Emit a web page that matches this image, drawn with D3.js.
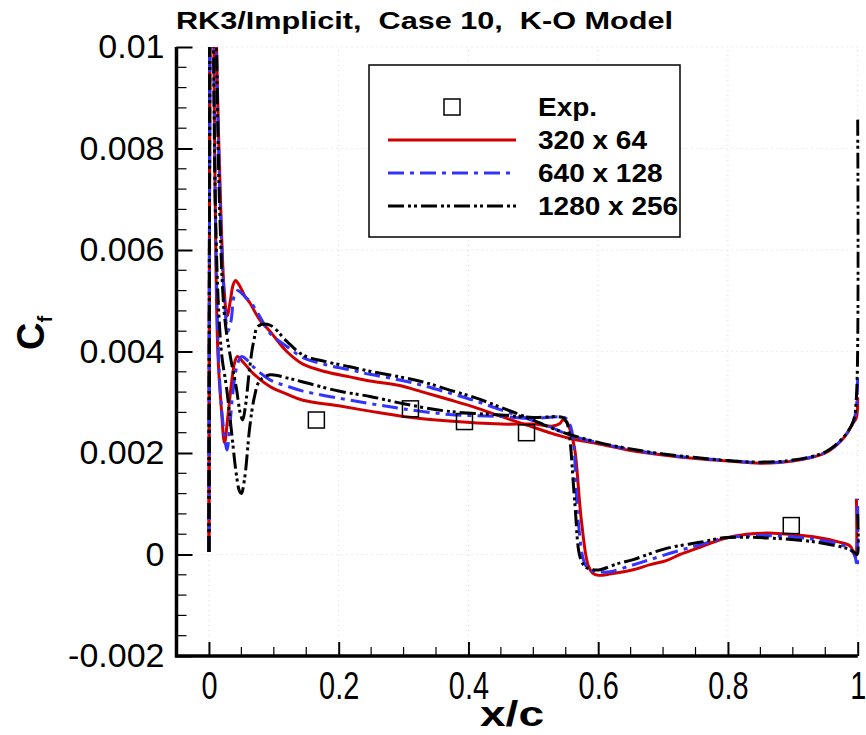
<!DOCTYPE html>
<html>
<head>
<meta charset="utf-8">
<script src="https://cdn.jsdelivr.net/npm/d3@7"></script>
<style>
  body { margin: 0; background: #fff; }
  text { font-family: "Liberation Sans", Arial, sans-serif; fill: #000; }
  .ttl { font-weight: bold; white-space: pre; }
</style>
</head>
<body>
<div id="chart"></div>
<script>
// data: [x/c, Cf] pairs
var red_upper = [[0.0,0.00005],[0.0004,0.003],[0.0008,0.006],[0.0012,0.009],[0.0016,0.0115],[0.004,0.015],[0.0068,0.0112],[0.009,0.0078],[0.011,0.0055],[0.014,0.0039],[0.019,0.0029],[0.024,0.0022],[0.029,0.0027],[0.035,0.0034],[0.04,0.0038],[0.044,0.0039],[0.052,0.0038],[0.068,0.00357],[0.094,0.00331],[0.12,0.00316],[0.145,0.00304],[0.2,0.00293],[0.25,0.00282],[0.3,0.00272],[0.37,0.00263],[0.45,0.00257],[0.5,0.00257],[0.53,0.00253],[0.541,0.00258],[0.5455,0.00265],[0.552,0.0026],[0.558,0.0024],[0.564,0.00206],[0.574,0.00068],[0.5845,-0.00021],[0.592,-0.00037],[0.6,-0.00041],[0.62,-0.00038],[0.654,-0.0003],[0.68,-0.0002],[0.705,-0.00012],[0.726,0.0],[0.752,0.00012],[0.793,0.00031],[0.829,0.0004],[0.87,0.00042],[0.932,0.00035],[0.973,0.00024],[0.988,0.00017],[0.993,0.00006],[0.997,-0.00007],[0.998,0.0011]];
var red_lower = [[0.0,0.00005],[0.0004,0.0035],[0.0009,0.007],[0.0014,0.0105],[0.005,0.016],[0.0114,0.0102],[0.015,0.0082],[0.019,0.0065],[0.023,0.0053],[0.028,0.0047],[0.033,0.005],[0.037,0.0053],[0.041,0.0054],[0.047,0.0053],[0.055,0.0051],[0.063,0.00496],[0.078,0.00463],[0.094,0.0044],[0.12,0.004],[0.145,0.00375],[0.18,0.0036],[0.217,0.0035],[0.248,0.00342],[0.294,0.00333],[0.33,0.0032],[0.371,0.00305],[0.41,0.0029],[0.448,0.00273],[0.49,0.00255],[0.525,0.0024],[0.552,0.0023],[0.6,0.00218],[0.65,0.00205],[0.7,0.00196],[0.75,0.00189],[0.8,0.00184],[0.85,0.0018],[0.9,0.00184],[0.95,0.002],[0.978,0.00229],[0.993,0.00259],[0.998,0.0027],[1.0,0.0031]];

var blue_upper = [[0.0,0.00005],[0.0004,0.003],[0.0008,0.006],[0.0012,0.009],[0.0016,0.0115],[0.004,0.015],[0.0068,0.0112],[0.009,0.0078],[0.0115,0.0055],[0.015,0.0038],[0.02,0.0028],[0.026,0.00215],[0.028,0.00206],[0.032,0.0025],[0.037,0.0032],[0.043,0.0037],[0.05,0.0039],[0.06,0.00382],[0.07,0.00368],[0.094,0.00344],[0.12,0.00332],[0.145,0.00322],[0.2,0.00308],[0.25,0.00297],[0.3,0.00287],[0.37,0.00276],[0.45,0.00272],[0.5,0.00268],[0.548,0.0027],[0.555,0.0026],[0.561,0.00232],[0.569,0.00068],[0.579,-0.00017],[0.587,-0.0003],[0.6,-0.00034],[0.618,-0.00034],[0.65,-0.00022],[0.68,-0.0001],[0.72,0.00006],[0.757,0.00019],[0.793,0.00032],[0.83,0.00036],[0.87,0.00037],[0.932,0.0003],[0.983,0.00015],[0.995,0.0],[0.999,-0.00024],[1.0,0.0011]];
var blue_lower = [[0.0,0.00005],[0.0004,0.0035],[0.0009,0.007],[0.0014,0.0105],[0.005,0.016],[0.0114,0.0102],[0.015,0.008],[0.019,0.0063],[0.024,0.005],[0.029,0.0044],[0.034,0.0046],[0.039,0.0051],[0.044,0.0052],[0.05,0.00515],[0.058,0.00505],[0.063,0.005],[0.078,0.0047],[0.094,0.00436],[0.12,0.0041],[0.145,0.00388],[0.18,0.00374],[0.217,0.00364],[0.248,0.00355],[0.294,0.00344],[0.33,0.00333],[0.371,0.00318],[0.41,0.00303],[0.448,0.00286],[0.49,0.00268],[0.525,0.00252],[0.552,0.00237],[0.6,0.0022],[0.65,0.00207],[0.7,0.00197],[0.75,0.0019],[0.8,0.00185],[0.85,0.00181],[0.9,0.00185],[0.95,0.00201],[0.978,0.0023],[0.993,0.0026],[0.998,0.0029],[1.0,0.0036]];

var black_upper = [[0.0,0.00005],[0.0004,0.003],[0.0008,0.006],[0.0012,0.009],[0.0016,0.0115],[0.004,0.015],[0.0068,0.0105],[0.01,0.0068],[0.015,0.0048],[0.02,0.0039],[0.027,0.0033],[0.035,0.0024],[0.042,0.0016],[0.047,0.00125],[0.05,0.0012],[0.055,0.0015],[0.063,0.00252],[0.07,0.0031],[0.078,0.00342],[0.094,0.00354],[0.12,0.00348],[0.145,0.0034],[0.2,0.00322],[0.25,0.00311],[0.3,0.00297],[0.37,0.00282],[0.45,0.00275],[0.5,0.0027],[0.545,0.0027],[0.551,0.00262],[0.555,0.00242],[0.564,0.00101],[0.572,-0.00005],[0.58,-0.00024],[0.592,-0.0003],[0.603,-0.0003],[0.63,-0.00018],[0.654,-0.0001],[0.705,0.00012],[0.757,0.00024],[0.793,0.00033],[0.83,0.00034],[0.87,0.00032],[0.932,0.00025],[0.983,0.00012],[0.993,0.00006],[0.999,0.0],[1.0,0.0008]];
var black_lower = [[0.0,0.00005],[0.0004,0.0035],[0.0009,0.007],[0.0014,0.0105],[0.005,0.016],[0.0114,0.0102],[0.017,0.0066],[0.024,0.0047],[0.033,0.0039],[0.042,0.0033],[0.048,0.0028],[0.052,0.00265],[0.056,0.0029],[0.063,0.0037],[0.069,0.0042],[0.076,0.0045],[0.094,0.00452],[0.12,0.0042],[0.145,0.00393],[0.18,0.0038],[0.217,0.0037],[0.248,0.00361],[0.294,0.0035],[0.33,0.0034],[0.371,0.00324],[0.41,0.00309],[0.448,0.00291],[0.49,0.0027],[0.525,0.00251],[0.552,0.00238],[0.6,0.00221],[0.65,0.00208],[0.7,0.00198],[0.75,0.00191],[0.8,0.00185],[0.85,0.00182],[0.9,0.00186],[0.95,0.00202],[0.978,0.00231],[0.993,0.00262],[0.998,0.0031],[1.0,0.0086]];

// experiment
var exp_x  = [0.1656, 0.3106, 0.3939, 0.4895, 0.8976];
var exp_cf = [0.00265, 0.00287, 0.00262, 0.0024, 0.00057];

var legend_labels = ["Exp.", "320 x 64", "640 x 128", "1280 x 256"];
var x_ticks = [0, 0.2, 0.4, 0.6, 0.8, 1];
var x_tick_labels = ["0", "0.2", "0.4", "0.6", "0.8", "1"];
var y_ticks = [-0.002, 0, 0.002, 0.004, 0.006, 0.008, 0.01];
var y_tick_labels = ["-0.002", "0", "0.002", "0.004", "0.006", "0.008", "0.01"];

// canvas
var W = 866, H = 735;
var x = d3.scaleLinear().domain([-0.05, 1.0]).range([176.5, 857.7]);
var y = d3.scaleLinear().domain([-0.002, 0.01]).range([656, 47]);

var svg = d3.select("#chart").append("svg")
  .attr("width", W).attr("height", H);

svg.append("defs").append("clipPath").attr("id", "clip")
  .append("rect")
  .attr("x", x.range()[0]).attr("y", y.range()[1])
  .attr("width", x.range()[1] - x.range()[0] + 2)
  .attr("height", y.range()[0] - y.range()[1]);

// dotted grid
svg.append("g").selectAll("line").data(x_ticks).enter().append("line")
  .attr("x1", function(d) { return x(d); }).attr("x2", function(d) { return x(d); })
  .attr("y1", y.range()[0]).attr("y2", y.range()[1])
  .attr("stroke", "#d8d8d8").attr("stroke-width", 1).attr("stroke-dasharray", "1,4");
svg.append("g").selectAll("line").data(y_ticks).enter().append("line")
  .attr("x1", x.range()[0]).attr("x2", x.range()[1])
  .attr("y1", function(d) { return y(d); }).attr("y2", function(d) { return y(d); })
  .attr("stroke", "#d8d8d8").attr("stroke-width", 1).attr("stroke-dasharray", "1,4");

// axes, ticks pointing inward
var xMinor = d3.range(0, 1.0001, 0.05).filter(function(d) { return Math.abs(d * 5 - Math.round(d * 5)) > 1e-6; });
var yMinor = d3.range(-0.002, 0.01, 0.0004).filter(function(d) { return Math.abs(d / 0.002 - Math.round(d / 0.002)) > 1e-6; });

var xAxis = d3.axisBottom(x).tickValues(x_ticks).tickSize(-14).tickPadding(14)
  .tickFormat(function(d, i) { return x_tick_labels[i]; });
var yAxis = d3.axisLeft(y).tickValues(y_ticks).tickSize(-16).tickPadding(12)
  .tickFormat(function(d, i) { return y_tick_labels[i]; });

var gx = svg.append("g").attr("transform", "translate(0," + y.range()[0] + ")").call(xAxis);
var gy = svg.append("g").attr("transform", "translate(" + x.range()[0] + ",0)").call(yAxis);
[gx, gy].forEach(function(g) {
  g.select(".domain").remove();
  g.selectAll(".tick line").attr("stroke", "#000").attr("stroke-width", 2);
});
gx.selectAll(".tick text").attr("font-size", 34).attr("dy", "0.71em")
  .attr("transform", "scale(0.85,1.12)")
  .style("font-family", "Liberation Sans, Arial, sans-serif");
gy.selectAll(".tick text").attr("font-size", 34)
  .style("font-family", "Liberation Sans, Arial, sans-serif");

svg.append("g").selectAll("line").data(xMinor).enter().append("line")
  .attr("x1", function(d) { return x(d); }).attr("x2", function(d) { return x(d); })
  .attr("y1", y.range()[0]).attr("y2", y.range()[0] - 9)
  .attr("stroke", "#000").attr("stroke-width", 1.2);
svg.append("g").selectAll("line").data(yMinor).enter().append("line")
  .attr("x1", x.range()[0]).attr("x2", x.range()[0] + 10)
  .attr("y1", function(d) { return y(d); }).attr("y2", function(d) { return y(d); })
  .attr("stroke", "#000").attr("stroke-width", 1.2);

svg.append("path")
  .attr("d", "M" + x.range()[0] + "," + y.range()[1] + "V" + y.range()[0] + "H" + x.range()[1])
  .attr("fill", "none").attr("stroke", "#000").attr("stroke-width", 3.5);

// curves
var line = d3.line()
  .x(function(d) { return x(d[0]); })
  .y(function(d) { return y(d[1]); })
  .curve(d3.curveCatmullRom.alpha(0.5));

var series = [
  { data: [red_upper, red_lower], color: "#d00000", dash: null },
  { data: [blue_upper, blue_lower], color: "#3333ff", dash: "16,6,4,6" },
  { data: [black_upper, black_lower], color: "#000000", dash: "16,4,3,3,3,4" }
];

var plot = svg.append("g").attr("clip-path", "url(#clip)");
series.forEach(function(s) {
  plot.selectAll(null).data(s.data).enter().append("path")
    .attr("d", line)
    .attr("fill", "none")
    .attr("stroke", s.color)
    .attr("stroke-width", 3)
    .attr("stroke-dasharray", s.dash);
});

// experimental squares
plot.selectAll("rect.exp").data(exp_x).enter().append("rect")
  .attr("class", "exp")
  .attr("x", function(d) { return x(d) - 8; })
  .attr("y", function(d, i) { return y(exp_cf[i]) - 8; })
  .attr("width", 16).attr("height", 16)
  .attr("fill", "none").attr("stroke", "#000").attr("stroke-width", 1.5);

// title
svg.append("text").attr("class", "ttl")
  .attr("x", 176).attr("y", 29).attr("font-size", 24)
  .attr("textLength", 497).attr("lengthAdjust", "spacingAndGlyphs")
  .text("RK3/Implicit,  Case 10,  K-O Model");

// axis titles
svg.append("text").attr("class", "ttl")
  .attr("x", 512).attr("y", 726).attr("text-anchor", "middle").attr("font-size", 35)
  .attr("textLength", 64).attr("lengthAdjust", "spacingAndGlyphs")
  .text("x/c");
var cf = svg.append("text").attr("class", "ttl")
  .attr("transform", "translate(44,333) rotate(-90)")
  .attr("text-anchor", "middle").attr("font-size", 38);
cf.append("tspan").text("C");
cf.append("tspan").attr("font-size", 20).attr("dy", 8).text("f");

// legend
var lg = svg.append("g");
lg.append("rect").attr("x", 369).attr("y", 65).attr("width", 311).attr("height", 172)
  .attr("fill", "#fff").attr("stroke", "#000").attr("stroke-width", 1.5);
var rows = [107, 140, 173, 206];
lg.append("rect").attr("x", 444).attr("y", rows[0] - 8).attr("width", 16).attr("height", 16)
  .attr("fill", "none").attr("stroke", "#000").attr("stroke-width", 1.5);
series.forEach(function(s, i) {
  lg.append("line").attr("x1", 388).attr("x2", 516)
    .attr("y1", rows[i + 1]).attr("y2", rows[i + 1])
    .attr("stroke", s.color).attr("stroke-width", 3)
    .attr("stroke-dasharray", s.dash);
});
lg.selectAll("text").data(legend_labels).enter().append("text")
  .attr("class", "ttl")
  .attr("x", 538).attr("y", function(d, i) { return rows[i]; })
  .attr("dy", "0.36em").attr("font-size", 25)
  .text(function(d) { return d; })
  .each(function() {
    var w = this.getComputedTextLength();
    d3.select(this).attr("textLength", w * 1.12).attr("lengthAdjust", "spacingAndGlyphs");
  });
</script>
</body>
</html>
